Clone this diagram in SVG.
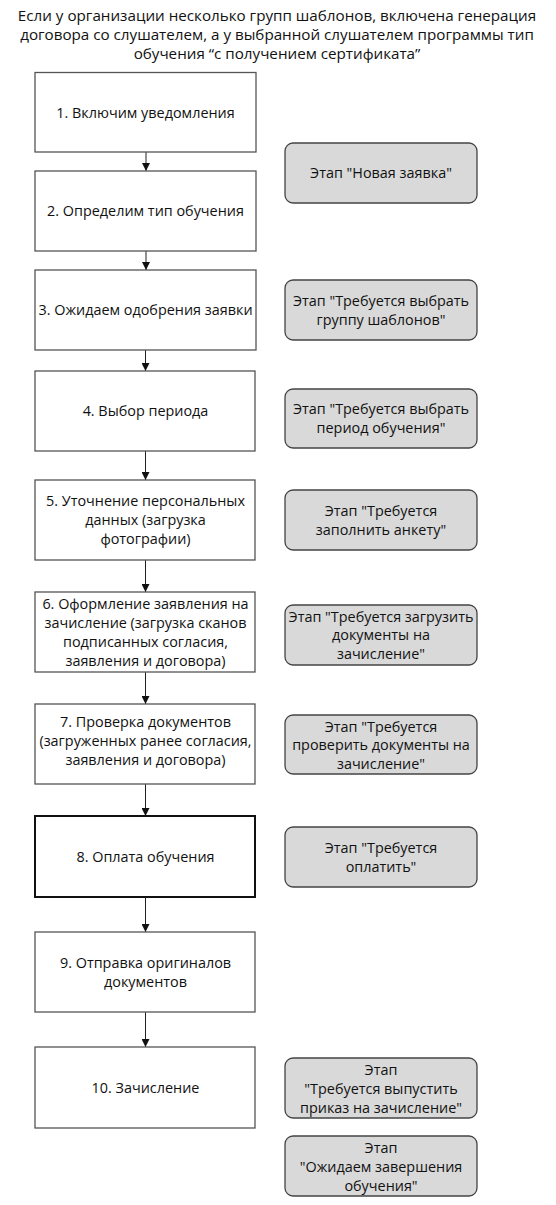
<svg xmlns="http://www.w3.org/2000/svg" width="556" height="1205" viewBox="0 0 556 1205">
<style>
text{font-family:"Open Sans","Noto Sans","DejaVu Sans",sans-serif;font-size:14.4px;fill:#111;text-anchor:middle}
.title{font-size:15.2px}
.step{fill:#fff;stroke:#555;stroke-width:1.3}
.step.bold{stroke:#111;stroke-width:2}
.stage{fill:#d9d9d9;stroke:#444;stroke-width:1.3}
.conn{stroke:#222;stroke-width:1;fill:none}
</style>
<defs>
<marker id="ah" markerWidth="8" markerHeight="8" refX="8" refY="4" orient="auto" markerUnits="userSpaceOnUse">
<path d="M0,0 L8,4 L0,8 Z" fill="#111"/>
</marker>
</defs>
<rect width="556" height="1205" fill="#fff"/>
<g id="title">
<text class="title" x="277" y="20.5">Если у организации несколько групп шаблонов, включена генерация</text>
<text class="title" x="277" y="39.5">договора со слушателем, а у выбранной слушателем программы тип</text>
<text class="title" x="277" y="58.5">обучения “с получением сертификата”</text>
</g>
<g id="connectors">
<line class="conn" x1="146" y1="152" x2="146" y2="171" marker-end="url(#ah)"/>
<line class="conn" x1="146" y1="251" x2="146" y2="270" marker-end="url(#ah)"/>
<line class="conn" x1="145.5" y1="350" x2="145.5" y2="371" marker-end="url(#ah)"/>
<line class="conn" x1="145.5" y1="451" x2="145.5" y2="480" marker-end="url(#ah)"/>
<line class="conn" x1="145.5" y1="560" x2="145.5" y2="592" marker-end="url(#ah)"/>
<line class="conn" x1="145.5" y1="672" x2="145.5" y2="704" marker-end="url(#ah)"/>
<line class="conn" x1="145.5" y1="784" x2="145.5" y2="816" marker-end="url(#ah)"/>
<line class="conn" x1="145.5" y1="897" x2="145.5" y2="932" marker-end="url(#ah)"/>
<line class="conn" x1="145.5" y1="1012" x2="145.5" y2="1047" marker-end="url(#ah)"/>
</g>
<g id="step1"><rect class="step" x="35" y="72.5" width="221" height="79.5"/><text x="145.5" y="118">1. Включим уведомления</text></g>
<g id="step2"><rect class="step" x="35" y="171" width="221" height="80"/><text x="145.5" y="216">2. Определим тип обучения</text></g>
<g id="step3"><rect class="step" x="35" y="270" width="221" height="80"/><text x="145.5" y="315">3. Ожидаем одобрения заявки</text></g>
<g id="step4"><rect class="step" x="35" y="371" width="220" height="80"/><text x="145.5" y="416">4. Выбор периода</text></g>
<g id="step5"><rect class="step" x="35" y="480" width="220" height="80"/><text x="145.5" y="506">5. Уточнение персональных<tspan x="145.5" dy="19">данных (загрузка</tspan><tspan x="145.5" dy="19">фотографии)</tspan></text></g>
<g id="step6"><rect class="step" x="35" y="592" width="220" height="80"/><text x="145.5" y="609">6. Оформление заявления на<tspan x="145.5" dy="19">зачисление (загрузка сканов</tspan><tspan x="145.5" dy="19">подписанных согласия,</tspan><tspan x="145.5" dy="19">заявления и договора)</tspan></text></g>
<g id="step7"><rect class="step" x="35" y="704" width="220" height="80"/><text x="145.5" y="727">7. Проверка документов<tspan x="145.5" dy="19">(загруженных ранее согласия,</tspan><tspan x="145.5" dy="19">заявления и договора)</tspan></text></g>
<g id="step8"><rect class="step bold" x="35" y="816" width="220" height="81"/><text x="145.5" y="862">8. Оплата обучения</text></g>
<g id="step9"><rect class="step" x="35" y="932" width="220" height="80"/><text x="145.5" y="968">9. Отправка оригиналов<tspan x="145.5" dy="19">документов</tspan></text></g>
<g id="step10"><rect class="step" x="35" y="1047" width="220" height="81"/><text x="145.5" y="1093">10. Зачисление</text></g>
<g id="stage1"><rect class="stage" x="285" y="143" width="192" height="60" rx="8"/><text x="381" y="178">Этап "Новая заявка"</text></g>
<g id="stage2"><rect class="stage" x="285" y="280" width="192" height="60" rx="8"/><text x="381" y="306">Этап "Требуется выбрать<tspan x="381" dy="18.5">группу шаблонов"</tspan></text></g>
<g id="stage3"><rect class="stage" x="285" y="389" width="192" height="59" rx="8"/><text x="381" y="414">Этап "Требуется выбрать<tspan x="381" dy="18.5">период обучения"</tspan></text></g>
<g id="stage4"><rect class="stage" x="285" y="490" width="192" height="60" rx="8"/><text x="381" y="516">Этап "Требуется<tspan x="381" dy="18.5">заполнить анкету"</tspan></text></g>
<g id="stage5"><rect class="stage" x="285" y="605" width="192" height="60" rx="8"/><text x="381" y="621.5">Этап "Требуется загрузить<tspan x="381" dy="18.5">документы на</tspan><tspan x="381" dy="18.5">зачисление"</tspan></text></g>
<g id="stage6"><rect class="stage" x="285" y="715" width="192" height="59" rx="8"/><text x="381" y="731.5">Этап "Требуется<tspan x="381" dy="18.5">проверить документы на</tspan><tspan x="381" dy="18.5">зачисление"</tspan></text></g>
<g id="stage7"><rect class="stage" x="285" y="827" width="192" height="60" rx="8"/><text x="381" y="853">Этап "Требуется<tspan x="381" dy="18.5">оплатить"</tspan></text></g>
<g id="stage8"><rect class="stage" x="285" y="1058" width="192" height="60" rx="8"/><text x="381" y="1075">Этап<tspan x="381" dy="19">"Требуется выпустить</tspan><tspan x="381" dy="18.5">приказ на зачисление"</tspan></text></g>
<g id="stage9"><rect class="stage" x="285" y="1136" width="192" height="60" rx="8"/><text x="381" y="1153">Этап<tspan x="381" dy="19">"Ожидаем завершения</tspan><tspan x="381" dy="18.5">обучения"</tspan></text></g>
</svg>
